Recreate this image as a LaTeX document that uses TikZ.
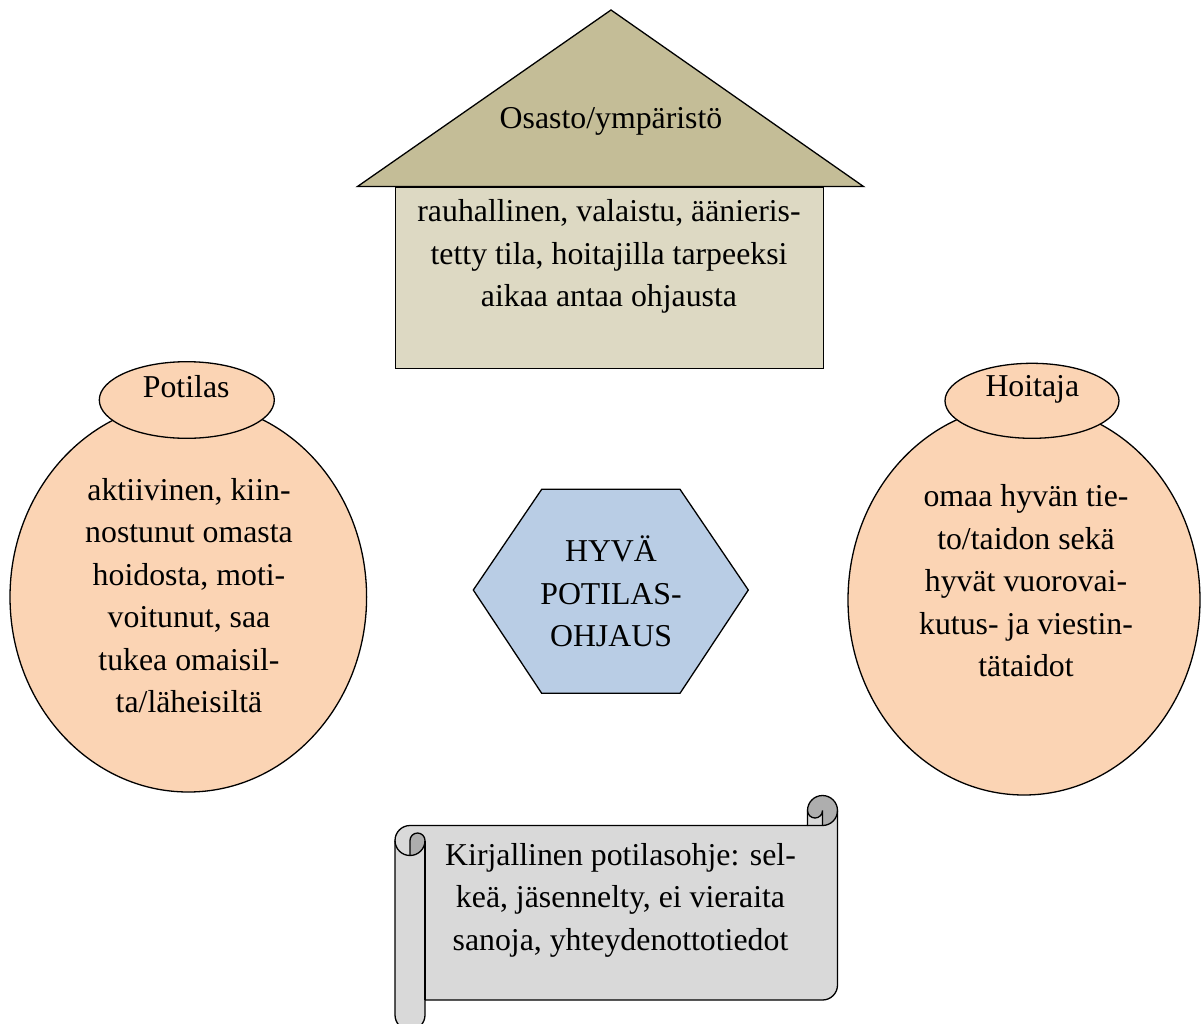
\documentclass[tikz,border=0pt]{standalone}
\usepackage{fontspec}
\setmainfont{Liberation Serif}
\definecolor{roofc}{HTML}{C4BD97}
\definecolor{bodyc}{HTML}{DDD9C3}
\definecolor{hexc}{HTML}{B9CDE5}
\definecolor{peach}{HTML}{FBD4B4}
\definecolor{scrollc}{HTML}{D9D9D9}
\definecolor{scrolldark}{HTML}{AEAEAE}
\tikzset{
  txt/.style={font=\fontsize{31.8}{42.5}\selectfont, align=center, inner sep=0pt},
  outline/.style={draw=black, line width=1.3pt, line join=miter},
}
\begin{document}
\begin{tikzpicture}[x=1pt, y=-1pt]
\useasboundingbox (0,0) rectangle (1202,1023);

% house
\filldraw[outline, fill=roofc] (611,10) -- (357.5,186.5) -- (863.5,186.5) -- cycle;
\filldraw[outline, fill=bodyc] (395.3,187) rectangle (823.3,368.3);
\node[txt] (roof) at (611,119.8) {\strut Osasto/ympäristö};
\node[txt] (env) at (609,255.7) {\strut rauhallinen, valaistu, äänieris-\\\strut tetty tila, hoitajilla tarpeeksi\\\strut aikaa antaa ohjausta};

% hexagon
\filldraw[outline, fill=hexc] (473.3,590) -- (541.7,489.3) -- (680,489.3) -- (748.3,590) -- (680,693.3) -- (541.7,693.3) -- cycle;
\node[txt] (center) at (611,595.7) {\strut HYVÄ\\\strut POTILAS-\\\strut OHJAUS};

% patient
\filldraw[outline, fill=peach] (188.3,597) ellipse [x radius=178.3, y radius=195];
\filldraw[outline, fill=peach] (186.8,400) ellipse [x radius=87.5, y radius=38.3];
\node[txt] (patient) at (186.2,389.2) {\strut Potilas};
\node[txt] (patienttext) at (189,597.75) {\strut aktiivinen, kiin-\\\strut nostunut omasta\\\strut hoidosta, moti-\\\strut voitunut, saa\\\strut tukea omaisil-\\\strut ta/läheisiltä};

% nurse
\filldraw[outline, fill=peach] (1024,600) ellipse [x radius=176, y radius=195];
\filldraw[outline, fill=peach] (1032,400.8) ellipse [x radius=87, y radius=37.5];
\node[txt] (nurse) at (1032.3,388.2) {\strut Hoitaja};
\node[txt] (nursetext) at (1026,583.2) {\strut omaa hyvän tie-\\\strut to/taidon sekä\\\strut hyvät vuorovai-\\\strut kutus- ja viestin-\\\strut tätaidot};

% scroll
\fill[scrollc] (837.5,810.5) arc[start angle=0,delta angle=90,radius=15] -- (822.5,810.5)
  arc[start angle=0,delta angle=180,radius=7.5] -- (807.5,825.5) -- (410,825.5)
  arc[start angle=270,delta angle=-90,radius=15] -- (395,1015)
  arc[start angle=180,delta angle=-180,radius=15] -- (425,1000) -- (822.5,1000)
  arc[start angle=90,delta angle=-90,radius=15] -- cycle;
\fill[scrolldark] (410,855.5) arc[start angle=90,delta angle=-90,radius=15]
  arc[start angle=0,delta angle=-180,radius=7.5] -- cycle;
\fill[scrolldark] (822.5,825.5) arc[start angle=90,delta angle=-270,radius=15]
  arc[start angle=180,delta angle=-180,radius=7.5] -- cycle;
\draw[outline] (395,840.5) arc[start angle=180,delta angle=90,radius=15] -- (807.5,825.5) -- (807.5,810.5)
  arc[start angle=180,delta angle=180,radius=15] -- (837.5,985)
  arc[start angle=0,delta angle=90,radius=15] -- (425,1000) -- (425,1015)
  arc[start angle=0,delta angle=180,radius=15] -- cycle;
\draw[outline] (807.5,825.5) -- (822.5,825.5) arc[start angle=90,delta angle=-90,radius=15];
\draw[outline] (822.5,825.5) -- (822.5,810.5) arc[start angle=0,delta angle=180,radius=7.5];
\draw[outline] (410,855.5) -- (410,840.5) arc[start angle=180,delta angle=180,radius=7.5]
  arc[start angle=0,delta angle=180,radius=15];
\draw[outline] (425,840.5) -- (425,1000);
\node[txt] (guide) at (620.5,899) {\strut Kirjallinen potilasohje: sel-\\\strut keä, jäsennelty, ei vieraita\\\strut sanoja, yhteydenottotiedot};
\end{tikzpicture}
\end{document}
